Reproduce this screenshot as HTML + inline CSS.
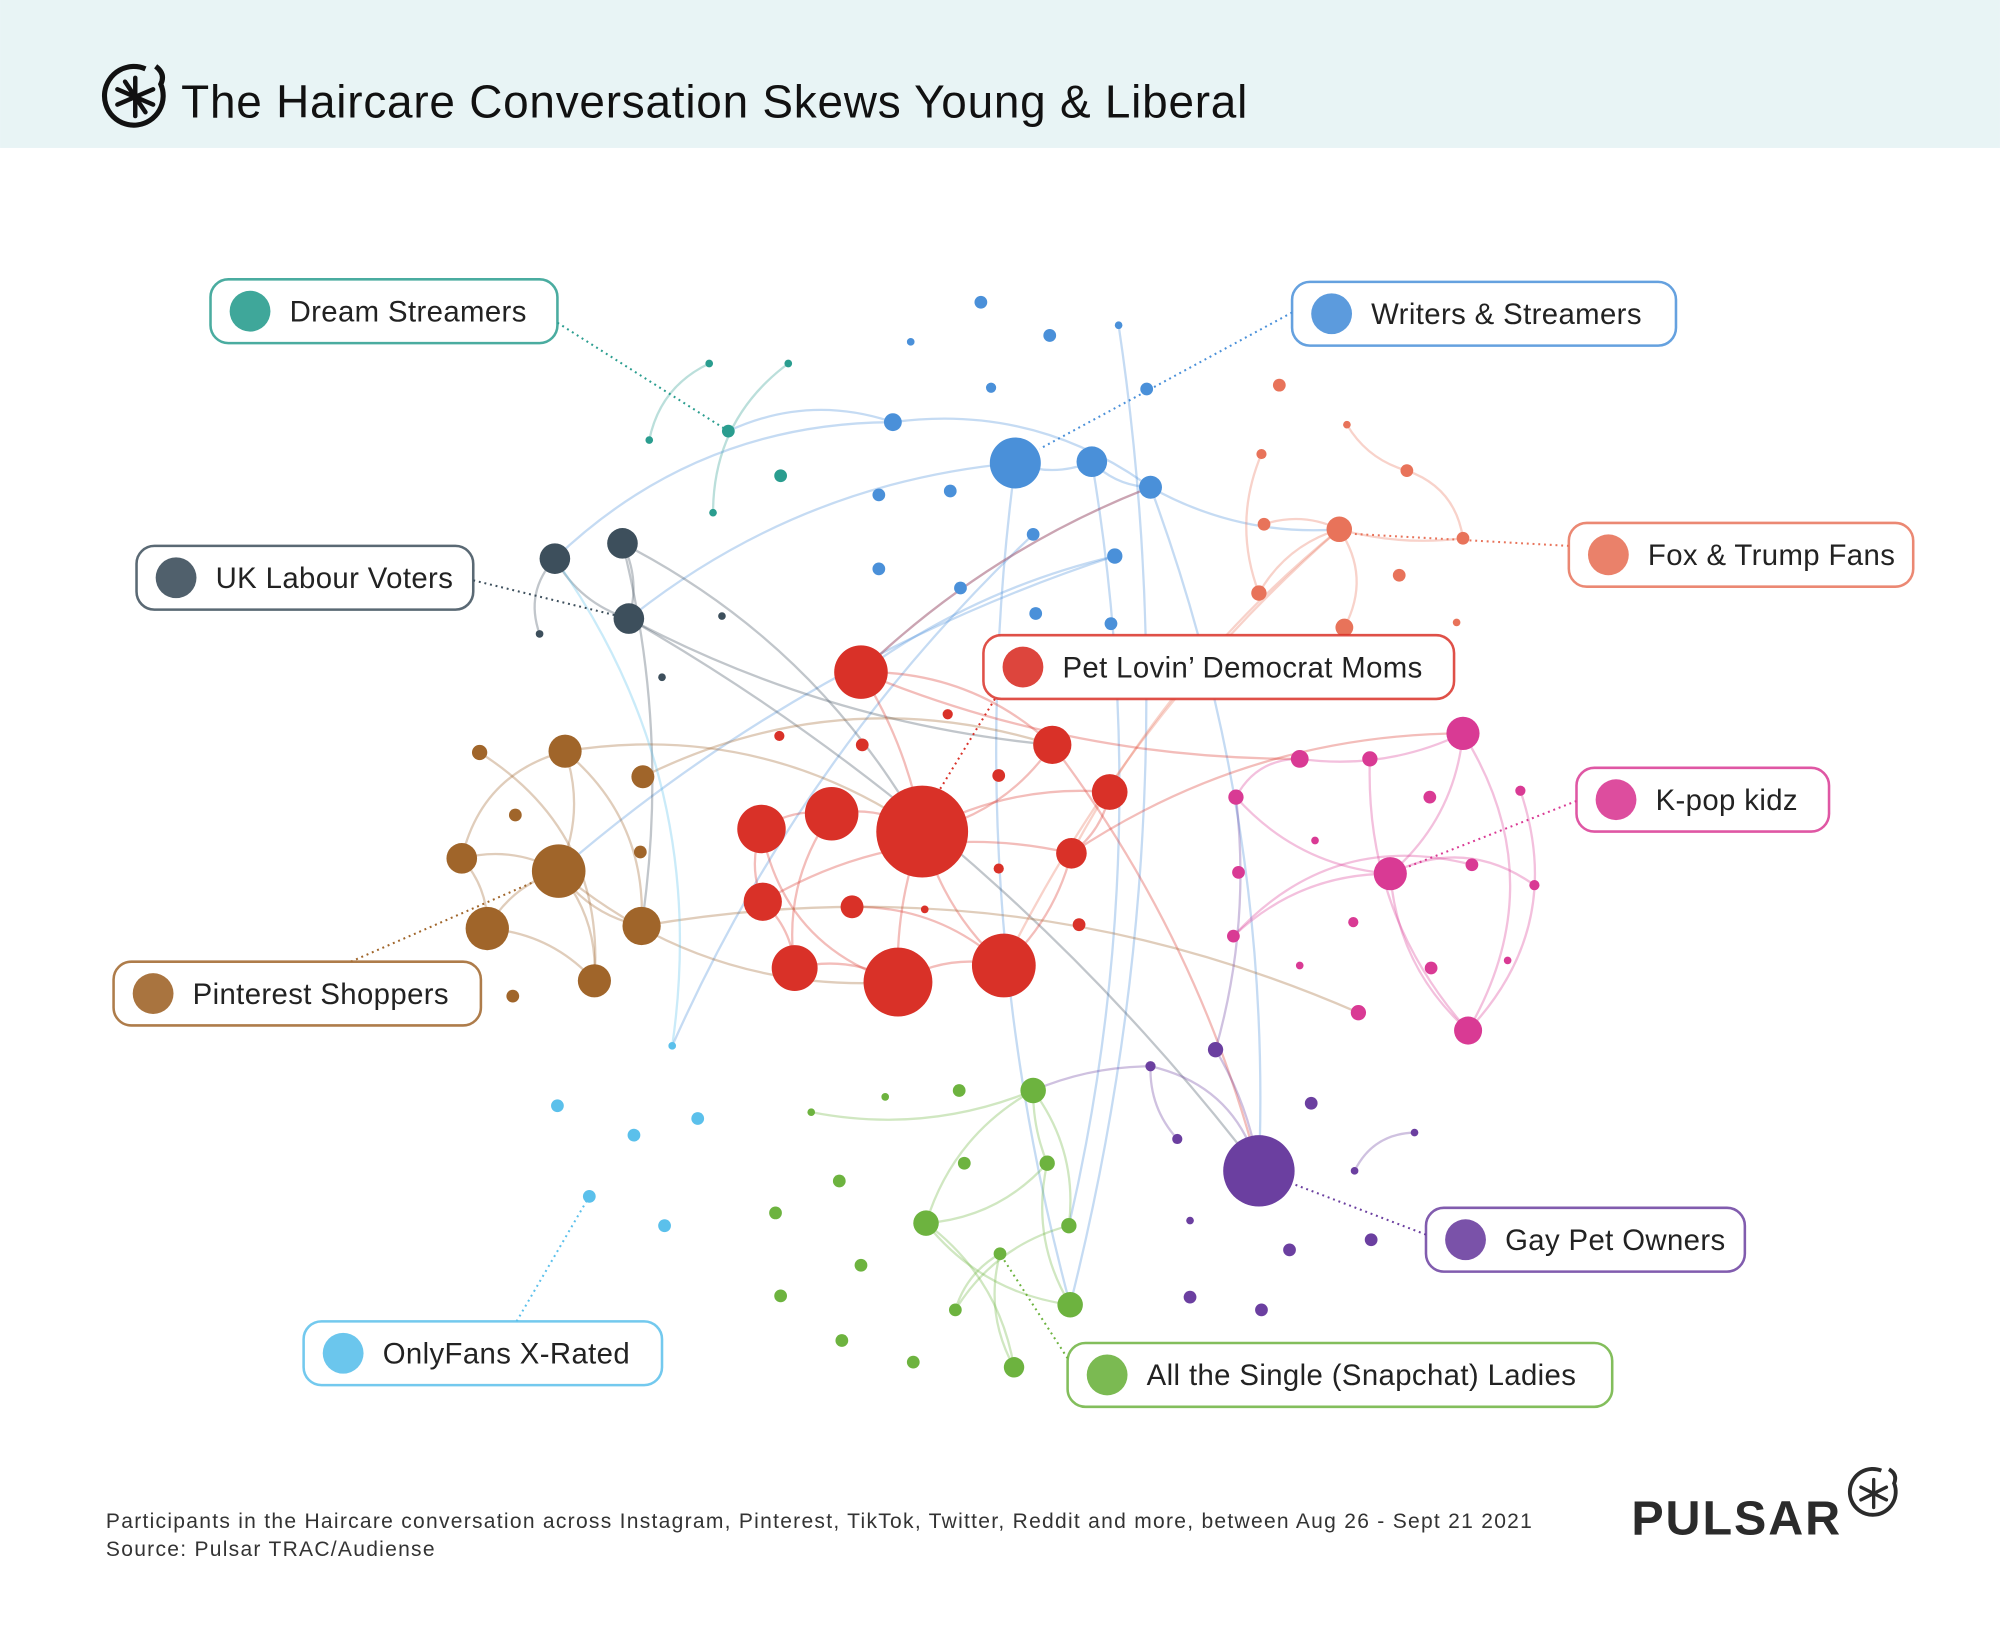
<!DOCTYPE html>
<html><head><meta charset="utf-8">
<style>
html,body{margin:0;padding:0;background:#fff;}
svg{display:block;font-family:"Liberation Sans",sans-serif;}
</style></head>
<body>
<svg id="chart" width="2000" height="1630" viewBox="0 0 1568 1278" xmlns="http://www.w3.org/2000/svg">
<rect x="0" y="0" width="1568" height="116" fill="#e8f4f5"/>
<g transform="translate(106,76)">
<path d="M8,-22 A23,23 0 1 0 20,-10 Q24,-18 16,-24" fill="none" stroke="#111" stroke-width="4"/>
<g stroke="#111" stroke-width="3.5" stroke-linecap="round">
<line x1="0" y1="-15" x2="0" y2="15"/><line x1="-14" y1="-6" x2="14" y2="6"/><line x1="-14" y1="6" x2="14" y2="-6"/><line x1="-8" y1="-12" x2="8" y2="12"/>
</g></g>
<text x="142" y="92" font-size="36" fill="#111" letter-spacing="0.6">The Haircare Conversation Skews Young &amp; Liberal</text>
<g id="edges"></g>
<g id="leaders"></g>
<g id="nodes"></g>
<g id="labels"></g>
<text x="83" y="1198" font-size="16.5" fill="#333" letter-spacing="1.0">Participants in the Haircare conversation across  Instagram, Pinterest, TikTok, Twitter, Reddit and more, between Aug 26 - Sept 21 2021</text>
<text x="83" y="1220" font-size="16.5" fill="#333" letter-spacing="1.0">Source: Pulsar TRAC/Audiense</text>
<text x="1279" y="1203" font-size="38" font-weight="bold" fill="#2b2b2b" letter-spacing="1.5">PULSAR</text>
<g transform="translate(1469,1171)">
<path d="M6,-18 A18,18 0 1 0 16,-8 Q19,-15 12,-19" fill="none" stroke="#2b2b2b" stroke-width="3"/>
<g stroke="#2b2b2b" stroke-width="2.6" stroke-linecap="round"><line x1="0" y1="-11" x2="0" y2="11"/><line x1="-10" y1="-5" x2="10" y2="5"/><line x1="-10" y1="5" x2="10" y2="-5"/></g></g>
</svg>
<script>
const groupNames=["dream","writers","labour","fox","red","brown","pink","purple","green","lightblue"];
const groupColors=["#2a9d8f","#4a90d9","#3d4f5c","#e8735a","#d93128","#a0652a","#d93a94","#6b3fa0","#6db33f","#5bc0eb"];
const dreamNodes=[[571,338,5],[556,285,3],[618,285,3],[509,345,3],[559,402,3],[612,373,5]];
const writerNodes=[[796,363,20],[856,362,12],[902,382,9],[700,331,7],[769,237,5],[823,263,5],[714,268,3],[877,255,3],[777,304,4],[899,305,5],[689,388,5],[745,385,5],[810,419,5],[874,436,6],[689,446,5],[753,461,5],[812,481,5],[871,489,5]];
const labourNodes=[[435,438,12],[488,426,12],[493,485,12],[423,497,3],[566,483,3],[519,531,3]];
const foxNodes=[[1050,415,10],[1003,302,5],[1056,333,3],[989,356,4],[1103,369,5],[991,411,5],[1147,422,5],[1097,451,5],[987,465,6],[1054,492,7],[1142,488,3]];
const redNodes=[[723,652,36],[704,770,27],[787,757,25],[675,527,21],[652,638,21],[597,650,19],[623,759,18],[825,584,15],[870,621,14],[840,669,12],[598,707,15],[668,711,9],[676,584,5],[611,577,4],[743,560,4],[783,608,5],[783,681,4],[725,713,3],[846,725,5]];
const brownNodes=[[438,683,21],[382,728,17],[503,726,15],[466,769,13],[443,589,13],[362,673,12],[504,609,9],[376,590,6],[404,639,5],[502,668,5],[402,781,5]];
const pinkNodes=[[1147,575,13],[1090,685,13],[1151,808,11],[1019,595,7],[1074,595,6],[969,625,6],[1121,625,5],[1192,620,4],[971,684,5],[1154,678,5],[1203,694,4],[1031,659,3],[1061,723,4],[967,734,5],[1019,757,3],[1122,759,5],[1182,753,3],[1065,794,6]];
const purpleNodes=[[987,918,28],[953,823,6],[902,836,4],[923,893,4],[1028,865,5],[1062,918,3],[1109,888,3],[933,957,3],[1075,972,5],[1011,980,5],[933,1017,5],[989,1027,5]];
const greenNodes=[[810,855,10],[726,959,10],[839,1023,10],[795,1072,8],[821,912,6],[838,961,6],[784,983,5],[756,912,5],[749,1027,5],[752,855,5],[694,860,3],[636,872,3],[658,926,5],[608,951,5],[675,992,5],[612,1016,5],[660,1051,5],[716,1068,5]];
const lightblueNodes=[[437,867,5],[497,890,5],[547,877,5],[462,938,5],[521,961,5],[527,820,3]];
const allGroups=[dreamNodes,writerNodes,labourNodes,foxNodes,redNodes,brownNodes,pinkNodes,purpleNodes,greenNodes,lightblueNodes];
const edges=[
[0,1,0,3,0.25],[0,2,0,4,0.25],[1,3,0,0,0.2],[1,3,1,2,-0.2],[1,0,1,1,0.2],[1,1,1,2,0.2],[1,0,2,2,0.15],[1,2,3,0,0.15],[1,7,8,2,-0.1],[1,0,8,2,0.1],
[1,2,7,0,-0.1],[1,1,8,5,-0.1],[1,13,5,0,0.1],[1,12,9,5,0.1],[1,3,2,0,0.2],[1,13,4,3,0.1],[1,2,4,3,0.1],
[2,0,2,2,0.2],[2,1,2,2,-0.2],[2,0,2,3,0.3],[2,1,5,2,-0.1],[2,2,7,0,-0.1],[2,1,4,0,-0.15],[2,2,4,7,0.1],
[3,0,3,5,0.2],[3,0,3,8,0.2],[3,0,3,9,-0.3],[3,0,3,6,0.1],[3,3,3,8,0.2],[3,4,3,6,-0.3],[3,2,3,4,0.2],[3,0,4,2,0.1],[3,0,4,9,0.1],
[4,0,4,1,0.1],[4,0,4,2,0.15],[4,0,4,4,0.2],[4,0,4,7,0.2],[4,0,4,8,-0.15],[4,0,4,3,0.1],[4,4,4,5,0.2],[4,5,4,10,0.2],[4,10,4,6,-0.2],[4,6,4,1,-0.2],[4,1,4,2,-0.2],[4,2,4,9,0.15],[4,9,4,8,0.2],
[4,3,4,7,-0.2],[4,5,4,1,0.3],[4,4,4,6,0.2],[4,11,4,2,-0.2],[4,10,4,9,-0.2],[4,3,1,2,-0.1],[4,9,6,0,-0.15],[4,7,7,0,-0.1],[4,3,6,3,0.1],
[5,0,5,1,0.2],[5,0,5,2,0.2],[5,0,5,3,-0.2],[5,0,5,4,0.2],[5,0,5,5,0.2],[5,4,5,5,0.3],[5,4,5,2,-0.25],[5,5,5,1,-0.2],[5,7,5,3,-0.3],[5,4,4,0,-0.2],[5,2,6,17,-0.15],[5,6,4,7,-0.2],[5,0,4,1,0.2],[5,1,5,3,-0.2],
[6,0,6,1,-0.2],[6,0,6,3,-0.15],[6,3,6,5,0.3],[6,1,6,5,-0.2],[6,1,6,2,0.2],[6,0,6,2,-0.3],[6,1,6,10,-0.3],[6,2,6,7,0.3],[6,13,6,9,-0.3],[6,4,6,2,0.2],[6,1,6,13,0.2],
[7,0,7,1,0.1],[7,0,7,2,0.3],[7,2,7,3,0.2],[7,5,7,6,-0.3],[7,2,8,0,0.1],[7,1,6,5,0.1],
[8,0,8,1,0.2],[8,0,8,4,0.1],[8,0,8,5,-0.2],[8,1,8,2,0.2],[8,1,8,3,-0.2],[8,4,8,2,0.2],[8,6,8,3,0.2],[8,1,8,4,0.2],[8,6,8,8,0.2],[8,11,8,0,0.15],[8,5,8,8,0.2],
[9,5,2,0,0.2]
];
const leaderLines=[[437,253,571,338,0],[1013,245,815,352,1],[371,455,493,485,2],[1230,428,1050,418,3],[780,548,735,622,4],[1236,628,1090,685,6],[275,754,438,683,5],[1118,968,987,918,7],[405,1036,462,938,9],[837,1065,784,983,8]];
const labelTexts=["Dream Streamers","Writers & Streamers","UK Labour Voters","Fox & Trump Fans","Pet Lovin’ Democrat Moms","K-pop kidz","Pinterest Shoppers","Gay Pet Owners","OnlyFans X-Rated","All the Single (Snapchat) Ladies"];
const labelBoxes=[[165,219,437],[1013,221,1314],[107,428,371],[1230,410,1500],[771,498,1140],[1236,602,1434],[89,754,377],[1118,947,1368],[238,1036,519],[837,1053,1264]];
const labelGroups=[0,1,2,3,4,6,5,7,9,8];

const NS="http://www.w3.org/2000/svg";
function mk(t,a){const e=document.createElementNS(NS,t);for(const k in a)e.setAttribute(k,a[k]);return e;}
const gE=document.getElementById('edges'),gN=document.getElementById('nodes'),gL=document.getElementById('leaders'),gB=document.getElementById('labels');
edges.forEach(ed=>{
 const a=allGroups[ed[0]][ed[1]],b=allGroups[ed[2]][ed[3]];
 const mx=(a[0]+b[0])/2,my=(a[1]+b[1])/2,dx=b[0]-a[0],dy=b[1]-a[1];
 const cx=mx-dy*ed[4],cy=my+dx*ed[4];
 const p=mk('path',{d:`M${a[0]},${a[1]} Q${cx},${cy} ${b[0]},${b[1]}`,fill:'none',stroke:groupColors[ed[0]],'stroke-opacity':0.32,'stroke-width':1.8});
 
 
 gE.appendChild(p);
});
leaderLines.forEach(l=>{
 const p=mk('line',{x1:l[0],y1:l[1],x2:l[2],y2:l[3],stroke:groupColors[l[4]],'stroke-width':1.6,'stroke-dasharray':'1.5 3'});
 
 
 gL.appendChild(p);
});
allGroups.forEach((g,gi)=>g.forEach(n=>{
 const c=mk('circle',{cx:n[0],cy:n[1],r:n[2],fill:groupColors[gi]});
 
 
 gN.appendChild(c);
}));
labelTexts.forEach((t,i)=>{
 const b=labelBoxes[i],col=groupColors[labelGroups[i]];
 const g=mk('g',{});
 
 
 g.appendChild(mk('rect',{x:b[0],y:b[1],width:b[2]-b[0],height:50,rx:14,fill:'#fff',stroke:col,'stroke-width':2,'stroke-opacity':0.85}));
 g.appendChild(mk('circle',{cx:b[0]+31,cy:b[1]+25,r:16,fill:col,'fill-opacity':0.9}));
 const tx=mk('text',{x:b[0]+62,y:b[1]+33,'font-size':23,fill:'#222','letter-spacing':'0.3'});
 tx.textContent=t;
 g.appendChild(tx);
 gB.appendChild(g);
});
</script>
</body></html>
